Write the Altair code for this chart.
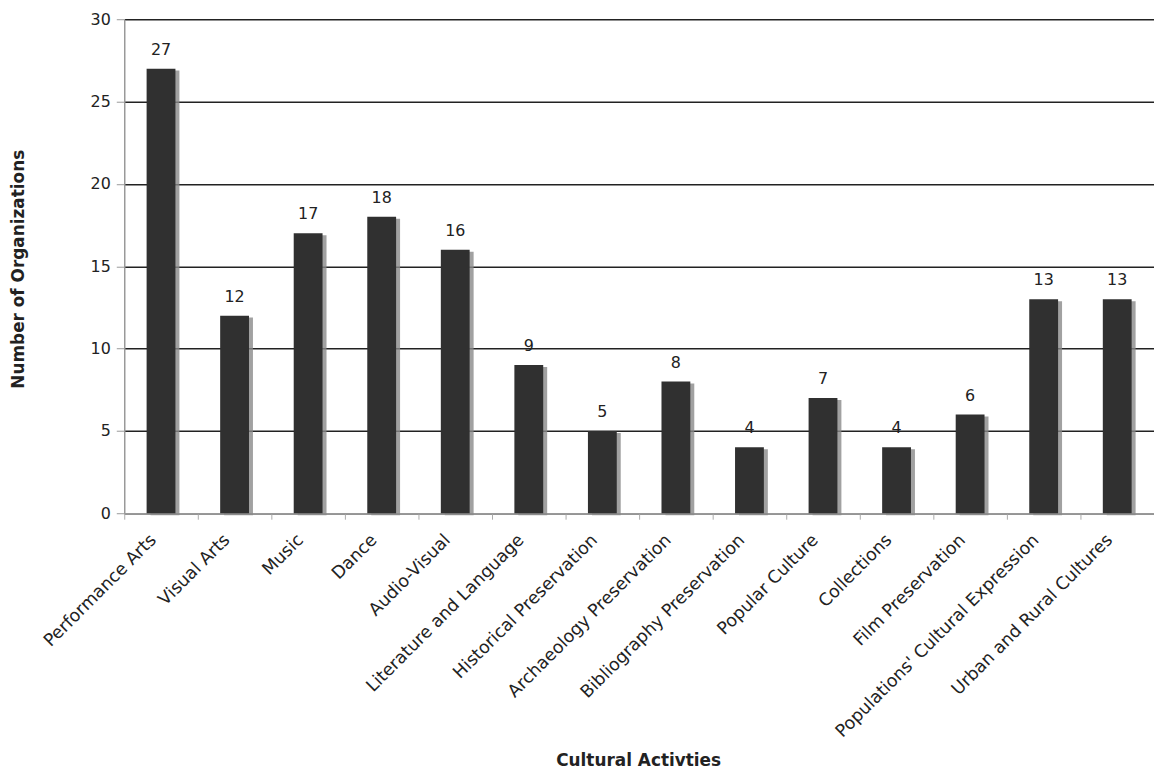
import altair as alt
import pandas as pd

categories = ["Performance Arts", "Visual Arts", "Music", "Dance", "Audio-Visual",
              "Literature and Language", "Historical Preservation", "Archaeology Preservation",
              "Bibliography Preservation", "Popular Culture", "Collections", "Film Preservation",
              "Populations' Cultural Expression", "Urban and Rural Cultures"]
values = [27, 12, 17, 18, 16, 9, 5, 8, 4, 7, 4, 6, 13, 13]

df = pd.DataFrame({"cat": categories, "val": values})

FONT = "DejaVu Sans"
W = 1036
H = 497

x = alt.X("cat:N", sort=categories, title="Cultural Activties",
          scale=alt.Scale(paddingInner=0, paddingOuter=0),
          axis=alt.Axis(labelAngle=-45, labelAlign="right", labelBaseline="middle",
                        labelFontSize=17.5, labelColor="#222", labelFont=FONT, labelLimit=400,
                        labelOffset=-8, labelPadding=18,
                        tickBand="extent", tickSize=6, tickColor="#aaa",
                        domainColor="#999", domainWidth=1.5,
                        titleFont=FONT, titleFontSize=17, titleFontWeight="bold",
                        titleColor="#222", titleX=517, titleY=241, titleBaseline="top",
                        titleAnchor="middle", grid=False))
y = alt.Y("val:Q", title="Number of Organizations",
          scale=alt.Scale(domain=[0, 30], nice=False),
          axis=alt.Axis(values=[0, 5, 10, 15, 20, 25, 30], grid=True, gridColor="#222",
                        gridWidth=1.5, tickSize=8, tickColor="#999", domainColor="#999",
                        domainWidth=1.5, labelFontSize=16, labelColor="#222", labelFont=FONT,
                        labelPadding=6, titleFont=FONT, titleFontSize=17,
                        titleFontWeight="bold", titleColor="#222", titleX=-97, titleY=251,
                        titleAngle=-90, titleAnchor="middle"))

base = alt.Chart(df)

shadow = base.mark_bar(width=29, color="#8a8a8a", xOffset=4, yOffset=2, opacity=0.8).encode(x=x, y=y)
bars = base.mark_bar(width=29, color="#303030").encode(x=x, y=y)
labels = base.mark_text(baseline="bottom", dy=-11, fontSize=16, font=FONT, color="#222").encode(
    x=x, y=y, text="val:Q")

chart = (shadow + bars + labels).properties(
    width=W, height=H,
    autosize=alt.AutoSizeParams(type="none"),
    padding={"left": 125, "top": 17, "right": 0, "bottom": 260},
    background="white",
).configure_view(stroke=None)

chart.save("out.html", embed_options={"renderer": "svg", "actions": False})
